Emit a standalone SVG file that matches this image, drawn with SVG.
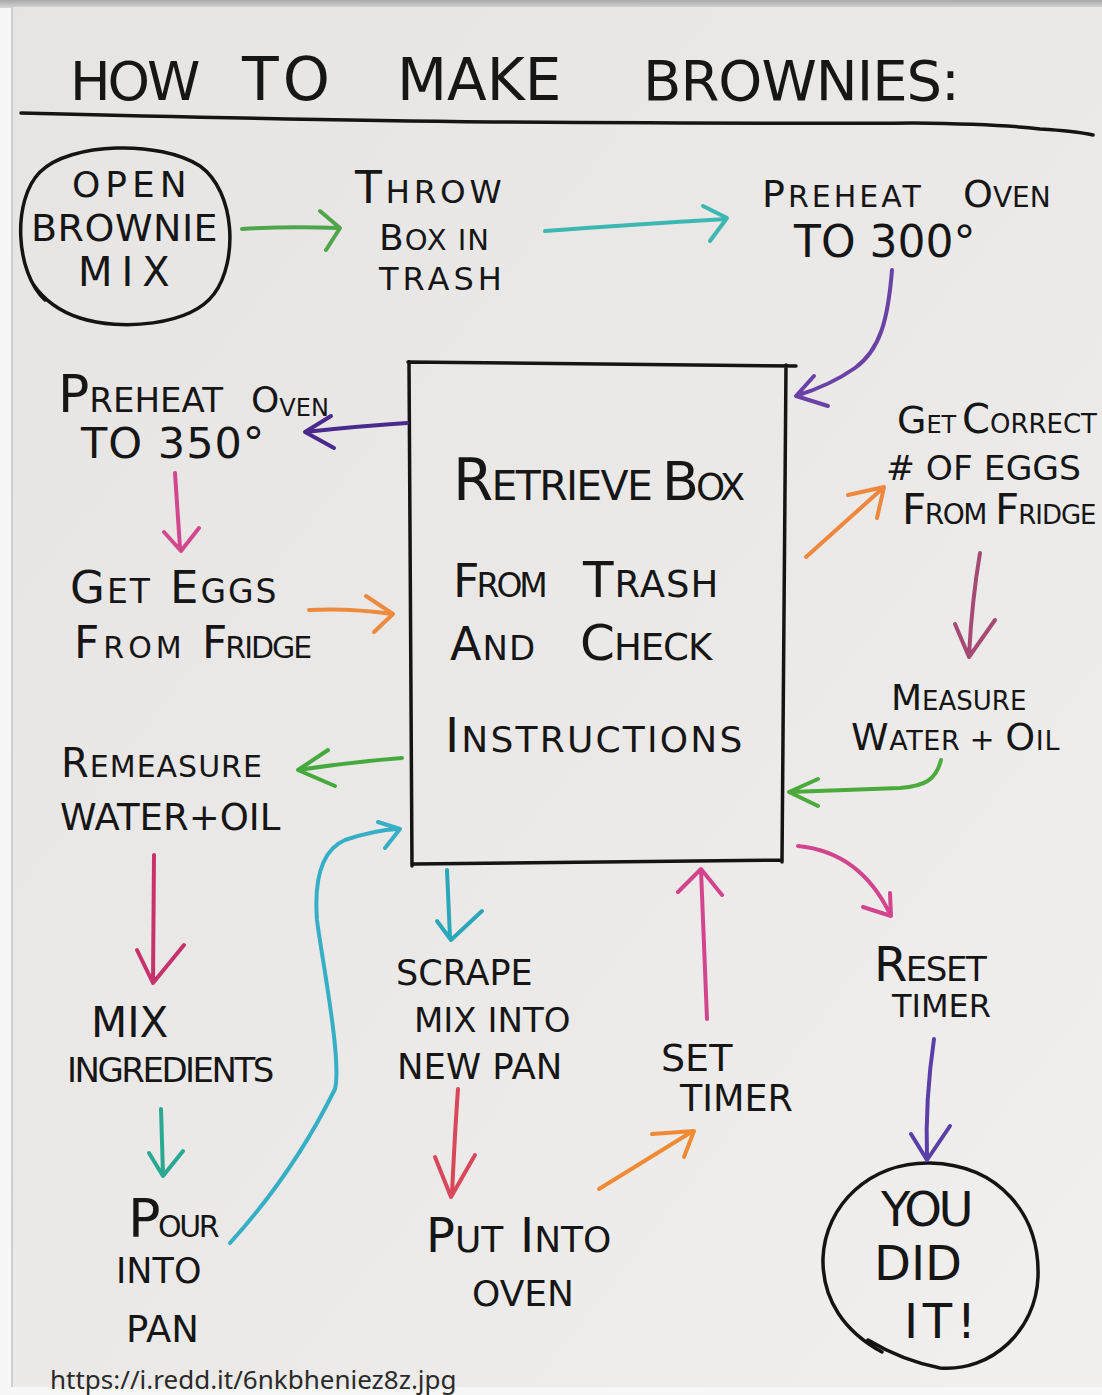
<svg xmlns="http://www.w3.org/2000/svg" width="1102" height="1395" viewBox="0 0 1102 1395">
<defs>
<linearGradient id="board" x1="0" y1="0" x2="1" y2="1">
<stop offset="0" stop-color="#e6e5e3"/>
<stop offset="0.6" stop-color="#ebeae8"/>
<stop offset="1" stop-color="#f1f0ee"/>
</linearGradient>
<linearGradient id="frame" x1="0" y1="0" x2="0" y2="1">
<stop offset="0" stop-color="#a9a9a9"/>
<stop offset="1" stop-color="#d6d6d6"/>
</linearGradient>
</defs>
<style>
.t{font-family:"DejaVu Sans","Liberation Sans",sans-serif;fill:#161616;}
.ln{fill:none;stroke:#141414;stroke-width:3.5;stroke-linecap:round;stroke-linejoin:round;}
.c{fill:none;stroke-width:4;stroke-linecap:round;stroke-linejoin:round;}
.url{font-family:"Noto Sans","Open Sans",sans-serif;fill:#2a2a2a;font-size:26px;}
</style>
<rect x="0" y="0" width="1102" height="1395" fill="#f7f7f7"/>
<rect x="0" y="0" width="1102" height="8" fill="url(#frame)"/>
<rect x="12" y="7" width="1090" height="1380" fill="url(#board)"/>
<line x1="12" y1="7" x2="12" y2="1387" stroke="#cfcfcf" stroke-width="2"/>

<g id="title">
<text class="t" y="100"><tspan x="70" font-size="54" letter-spacing="-3">HOW </tspan><tspan x="242" font-size="60" letter-spacing="4">TO </tspan><tspan x="397" font-size="58">MAKE </tspan><tspan x="643" font-size="56" letter-spacing="-1">BROWNIES:</tspan></text>
<path class="ln" d="M21,113 Q300,120 492,122 Q800,124 913,123 Q1000,124 1040,129 Q1075,131 1093,135"/>
</g>

<g id="open-mix">
<path class="ln" d="M45,300 C15,272 12,200 40,172 C70,142 160,140 200,166 C236,192 238,262 214,294 C190,326 120,331 80,318 C58,311 44,300 33,284"/>
<text class="t" font-size="36" x="72" y="197" letter-spacing="5">OPEN</text>
<text class="t" font-size="38" x="31" y="241" letter-spacing="0.5">BROWNIE</text>
<text class="t" font-size="40" x="78" y="286" letter-spacing="9">MIX</text>
</g>

<g id="throw-box">
<text class="t" x="355" y="203" letter-spacing="3.7"><tspan font-size="44">T</tspan><tspan font-size="32.6">HROW</tspan></text>
<text class="t" x="379" y="250" letter-spacing="1"><tspan font-size="36">B</tspan><tspan font-size="29">OX IN</tspan></text>
<text class="t" font-size="32" x="379" y="290" letter-spacing="4">TRASH</text>
</g>

<g id="preheat-300">
<text class="t" y="207"><tspan x="762" font-size="38" letter-spacing="3">P</tspan><tspan font-size="30" letter-spacing="3">REHEAT </tspan><tspan x="963" font-size="38">O</tspan><tspan font-size="28">VEN</tspan></text>
<text class="t" font-size="44" x="794" y="257">TO 300°</text>
</g>

<g id="retrieve-box">
<path class="ln" d="M408,362 L796,366 M786,365 L782,862 M414,864 L782,860 M409,362 L412,866"/>
<text class="t" y="500"><tspan x="453" font-size="58" letter-spacing="-1.7">R</tspan><tspan font-size="41" letter-spacing="-1.7">ETRIEVE </tspan><tspan x="662" font-size="54" letter-spacing="-3">B</tspan><tspan font-size="37" letter-spacing="-3">OX</tspan></text>
<text class="t" y="597"><tspan x="453" font-size="46" letter-spacing="-3">F</tspan><tspan font-size="33" letter-spacing="-3">ROM </tspan><tspan x="583" font-size="50" letter-spacing="1">T</tspan><tspan font-size="37" letter-spacing="1">RASH</tspan></text>
<text class="t" y="660"><tspan x="450" font-size="46" letter-spacing="1">A</tspan><tspan font-size="34" letter-spacing="1">ND </tspan><tspan x="580" font-size="50" letter-spacing="-1">C</tspan><tspan font-size="37" letter-spacing="-1">HECK</tspan></text>
<text class="t" x="445" y="752" letter-spacing="2.2"><tspan font-size="48">I</tspan><tspan font-size="36">NSTRUCTIONS</tspan></text>
</g>

<g id="preheat-350">
<text class="t" y="412"><tspan x="58" font-size="52">P</tspan><tspan font-size="34">REHEAT </tspan><tspan x="251" font-size="36">O</tspan><tspan font-size="24" dy="4">VEN</tspan></text>
<text class="t" font-size="43" x="81" y="458" letter-spacing="1">TO 350°</text>
</g>

<g id="get-eggs">
<text class="t" y="603"><tspan x="70" font-size="45" letter-spacing="2">G</tspan><tspan font-size="33" letter-spacing="2">ET </tspan><tspan x="170" font-size="45" letter-spacing="2">E</tspan><tspan font-size="33" letter-spacing="2">GGS</tspan></text>
<text class="t" y="658"><tspan x="74" font-size="44" letter-spacing="4">F</tspan><tspan font-size="30" letter-spacing="4">ROM </tspan><tspan x="202" font-size="44" letter-spacing="-2">F</tspan><tspan font-size="30" letter-spacing="-2">RIDGE</tspan></text>
</g>

<g id="remeasure">
<text class="t" x="61" y="777" letter-spacing="1"><tspan font-size="40">R</tspan><tspan font-size="30">EMEASURE</tspan></text>
<text class="t" font-size="37" x="60" y="830">WATER+OIL</text>
</g>

<g id="mix-ingredients">
<text class="t" font-size="42" x="91" y="1037">MIX</text>
<text class="t" font-size="34" x="67" y="1082" letter-spacing="-2.5">INGREDIENTS</text>
</g>

<g id="pour-pan">
<text class="t" x="128" y="1237" letter-spacing="-2.5"><tspan font-size="54">P</tspan><tspan font-size="30">OUR</tspan></text>
<text class="t" font-size="35" x="116" y="1283">INTO</text>
<text class="t" font-size="37" x="126" y="1342">PAN</text>
</g>

<g id="scrape">
<text class="t" font-size="35" x="396" y="985">SCRAPE</text>
<text class="t" font-size="34" x="414" y="1032">MIX INTO</text>
<text class="t" font-size="35.5" x="397" y="1079">NEW PAN</text>
</g>

<g id="put-oven">
<text class="t" y="1252"><tspan x="426" font-size="48">P</tspan><tspan font-size="36">UT </tspan><tspan x="520" font-size="48">I</tspan><tspan font-size="36">NTO</tspan></text>
<text class="t" font-size="36" x="472" y="1306">OVEN</text>
</g>

<g id="set-timer">
<text class="t" font-size="38" x="661" y="1071">SET</text>
<text class="t" font-size="36.5" x="680" y="1111">TIMER</text>
</g>

<g id="correct-eggs">
<text class="t" y="433"><tspan x="897" font-size="38">G</tspan><tspan font-size="24">ET </tspan><tspan x="962" font-size="40">C</tspan><tspan font-size="26">ORRECT</tspan></text>
<text class="t" font-size="34.5" x="886" y="480">#&#160;OF EGGS</text>
<text class="t" y="524"><tspan x="902" font-size="42" letter-spacing="-1.5">F</tspan><tspan font-size="28" letter-spacing="-1.5">ROM </tspan><tspan x="995" font-size="42" letter-spacing="-1">F</tspan><tspan font-size="26" letter-spacing="-1">RIDGE</tspan></text>
</g>

<g id="measure">
<text class="t" x="891" y="710"><tspan font-size="36">M</tspan><tspan font-size="26">EASURE</tspan></text>
<text class="t" x="851" y="750" letter-spacing="0.6"><tspan font-size="38">W</tspan><tspan font-size="27">ATER </tspan><tspan font-size="30">+ </tspan><tspan font-size="38">O</tspan><tspan font-size="27">IL</tspan></text>
</g>

<g id="reset-timer">
<text class="t" x="874" y="981" letter-spacing="-1.5"><tspan font-size="48">R</tspan><tspan font-size="34">ESET</tspan></text>
<text class="t" font-size="32" x="892" y="1017">TIMER</text>
</g>

<g id="you-did-it">
<path class="ln" d="M868,1340 C893,1355 915,1363 940,1368 C992,1372 1036,1330 1038,1277 C1040,1215 1000,1165 930,1163 C870,1162 825,1205 823,1258 C822,1300 845,1332 882,1352"/>
<text class="t" font-size="48" x="881" y="1226" letter-spacing="-3.5">YOU</text>
<text class="t" font-size="48" x="874" y="1280">DID</text>
<text class="t" font-size="48" x="904" y="1338" letter-spacing="4.6">IT!</text>
</g>

<g id="connectors">
<path class="c" stroke="#4fa64a" d="M242,229 Q290,226 338,228 M320,211 L340,228 L326,250"/>
<path class="c" stroke="#3db7b3" d="M545,231 Q640,224 726,219 M703,206 L727,218 L710,241"/>
<path class="c" stroke="#6a42a6" d="M892,270 C888,320 880,350 855,368 C835,382 815,390 796,396 M814,376 L796,396 L828,406"/>
<path class="c" stroke="#4a2a8c" d="M407,423 Q360,426 305,432 M331,416 L305,432 L334,448"/>
<path class="c" stroke="#d2488e" d="M175,473 L180,548 M164,532 L181,551 L199,528"/>
<path class="c" stroke="#ee8a3e" d="M309,610 Q350,608 392,614 M366,596 L393,614 L374,632"/>
<path class="c" stroke="#ef873c" d="M806,557 L883,488 M848,495 L884,487 L877,518"/>
<path class="c" stroke="#a54a74" d="M980,553 Q972,600 969,655 M955,624 L969,657 L995,620"/>
<path class="c" stroke="#4aaa3c" d="M941,760 C936,780 925,786 900,788 Q850,790 790,792 M818,779 L789,792 L818,806"/>
<path class="c" stroke="#45aa3e" d="M402,758 Q350,762 298,770 M328,750 L298,770 L335,786"/>
<path class="c" stroke="#c8326c" d="M154,855 L153,982 M137,950 L153,983 L184,945"/>
<path class="c" stroke="#2aa891" d="M161,1109 L163,1174 M149,1153 L163,1176 L183,1151"/>
<path class="c" stroke="#36afc6" d="M230,1243 C260,1210 300,1160 335,1089 C342,1060 322,960 317,920 C314,880 322,850 345,840 Q375,830 398,829 M378,822 L400,829 L385,848"/>
<path class="c" stroke="#2aa7b9" d="M447,870 L450,938 M437,921 L451,940 L482,911"/>
<path class="c" stroke="#d8475a" d="M458,1089 Q455,1130 452,1194 M435,1157 L451,1197 L475,1155"/>
<path class="c" stroke="#f08a34" d="M599,1189 L693,1131 M652,1134 L694,1131 L684,1157"/>
<path class="c" stroke="#d2448e" d="M707,1019 L701,870 M678,892 L701,869 L722,895"/>
<path class="c" stroke="#d2448e" d="M798,846 Q860,852 890,914 M863,907 L891,916 L890,893"/>
<path class="c" stroke="#5a3fa8" d="M934,1039 Q925,1100 927,1158 M911,1134 L927,1160 L950,1126"/>
</g>

<text class="url" x="50" y="1389">https://i.redd.it/6nkbheniez8z.jpg</text>
</svg>
